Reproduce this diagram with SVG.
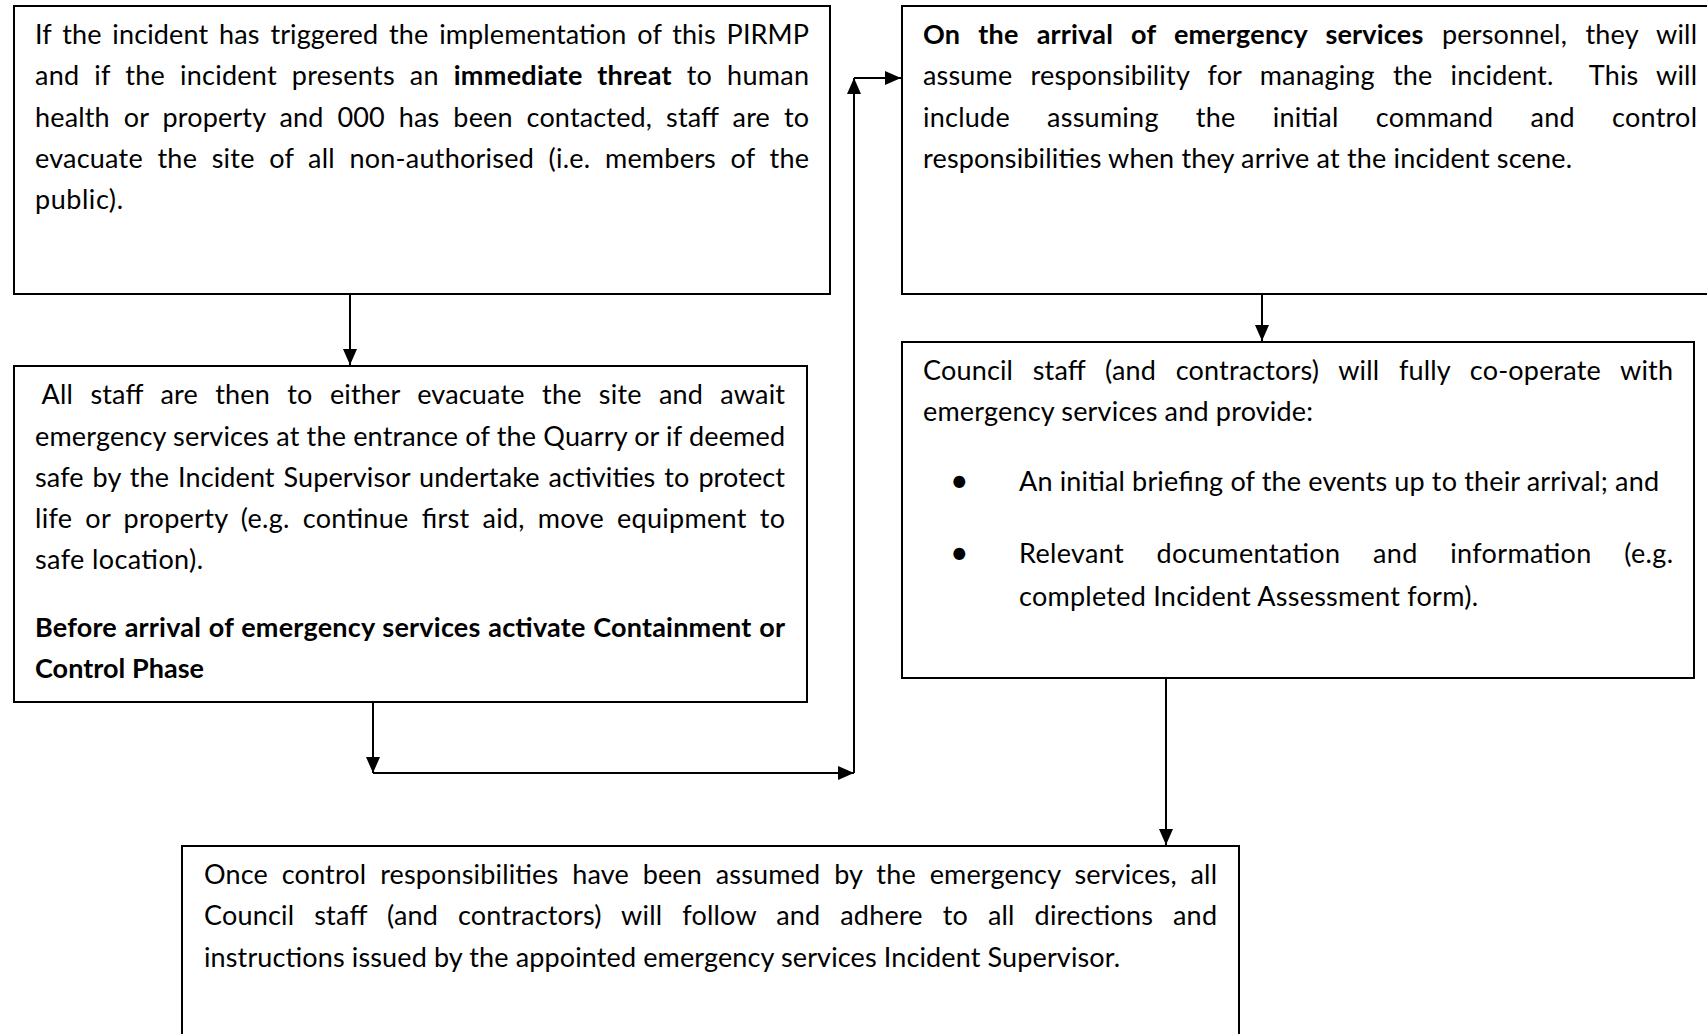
<svg xmlns="http://www.w3.org/2000/svg" width="1707" height="1034" viewBox="0 0 1707 1034">
<style>
.box{fill:#fff;stroke:#000;stroke-width:2}
.t{font-family:Lato,"Open Sans","Liberation Sans",sans-serif;font-size:27px;fill:#000;white-space:pre}
.b{font-weight:700}
.bul{font-family:Lato,"DejaVu Sans",sans-serif;font-size:32px;fill:#000}
.c{fill:none;stroke:#000;stroke-width:2}
</style>
<defs>
<marker id="ah" markerUnits="userSpaceOnUse" markerWidth="16" markerHeight="16" viewBox="0 0 16 16" refX="16" refY="8" orient="auto">
<path d="M0,1 L16,8 L0,15 Z" fill="#000"/>
</marker>
</defs>
<rect width="1707" height="1034" fill="#fff"/>
<g id="connectors">
<path class="c" d="M350,294 V365" marker-end="url(#ah)"/>
<path class="c" d="M373,702 V773" marker-end="url(#ah)"/>
<path class="c" d="M373,773 H854" marker-end="url(#ah)"/>
<path class="c" d="M854,773 V78" marker-end="url(#ah)"/>
<path class="c" d="M854,78 H901" marker-end="url(#ah)"/>
<path class="c" d="M1262,294 V341" marker-end="url(#ah)"/>
<path class="c" d="M1166,678 V845" marker-end="url(#ah)"/>
</g>
<g id="node1">
<rect class="box" x="14" y="6" width="816" height="288"/>
<text class="t" x="35" y="44" word-spacing="3.8" textLength="774" lengthAdjust="spacing">If the incident has triggered the implementation of this PIRMP</text>
<text class="t" x="35" y="85" word-spacing="7.7" textLength="774" lengthAdjust="spacing">and if the incident presents an <tspan class="b">immediate threat</tspan> to human</text>
<text class="t" x="35" y="127" word-spacing="6.8" textLength="774" lengthAdjust="spacing">health or property and 000 has been contacted, staff are to</text>
<text class="t" x="35" y="168" word-spacing="7.4" textLength="774" lengthAdjust="spacing">evacuate the site of all non-authorised (i.e. members of the</text>
<text class="t" x="35" y="209" textLength="88" lengthAdjust="spacing">public).</text>
</g>
<g id="node2">
<rect class="box" x="902" y="6" width="816" height="288"/>
<text class="t" x="923" y="44" word-spacing="11.3" textLength="774" lengthAdjust="spacing"><tspan class="b">On the arrival of emergency services</tspan> personnel, they will</text>
<text class="t" x="923" y="85" word-spacing="11" textLength="774" lengthAdjust="spacing">assume responsibility for managing the incident.  This will</text>
<text class="t" x="923" y="127" word-spacing="30" textLength="774" lengthAdjust="spacing">include assuming the initial command and control</text>
<text class="t" x="923" y="168" textLength="649" lengthAdjust="spacing">responsibilities when they arrive at the incident scene.</text>
</g>
<g id="node3">
<rect class="box" x="14" y="366" width="793" height="336"/>
<text class="t" x="41.6" y="404" word-spacing="10.2" textLength="743.4" lengthAdjust="spacing">All staff are then to either evacuate the site and await</text>
<text class="t" x="35" y="445.5" textLength="750" lengthAdjust="spacing">emergency services at the entrance of the Quarry or if deemed</text>
<text class="t" x="35" y="487" word-spacing="1.9" textLength="750" lengthAdjust="spacing">safe by the Incident Supervisor undertake activities to protect</text>
<text class="t" x="35" y="528" word-spacing="5.9" textLength="750" lengthAdjust="spacing">life or property (e.g. continue first aid, move equipment to</text>
<text class="t" x="35" y="569" textLength="168" lengthAdjust="spacing">safe location).</text>
<text class="t b" x="35" y="637" word-spacing="0.9" textLength="750" lengthAdjust="spacing">Before arrival of emergency services activate Containment or</text>
<text class="t b" x="35" y="678" textLength="169" lengthAdjust="spacing">Control Phase</text>
</g>
<g id="node4">
<rect class="box" x="902" y="342" width="792" height="336"/>
<text class="t" x="923" y="380" word-spacing="12.5" textLength="750" lengthAdjust="spacing">Council staff (and contractors) will fully co-operate with</text>
<text class="t" x="923" y="421" textLength="390" lengthAdjust="spacing">emergency services and provide:</text>
<text class="bul" x="950" y="492">•</text>
<text class="t" x="1019" y="491" textLength="640" lengthAdjust="spacing">An initial briefing of the events up to their arrival; and</text>
<text class="bul" x="950" y="564">•</text>
<text class="t" x="1019" y="563" word-spacing="25.4" textLength="654" lengthAdjust="spacing">Relevant documentation and information (e.g.</text>
<text class="t" x="1019" y="606" textLength="459" lengthAdjust="spacing">completed Incident Assessment form).</text>
</g>
<g id="node5">
<rect class="box" x="182" y="846" width="1057" height="200"/>
<text class="t" x="204" y="884" word-spacing="6.8" textLength="1013" lengthAdjust="spacing">Once control responsibilities have been assumed by the emergency services, all</text>
<text class="t" x="204" y="925" word-spacing="12.8" textLength="1013" lengthAdjust="spacing">Council staff (and contractors) will follow and adhere to all directions and</text>
<text class="t" x="204" y="967" textLength="916" lengthAdjust="spacing">instructions issued by the appointed emergency services Incident Supervisor.</text>
</g>
</svg>
